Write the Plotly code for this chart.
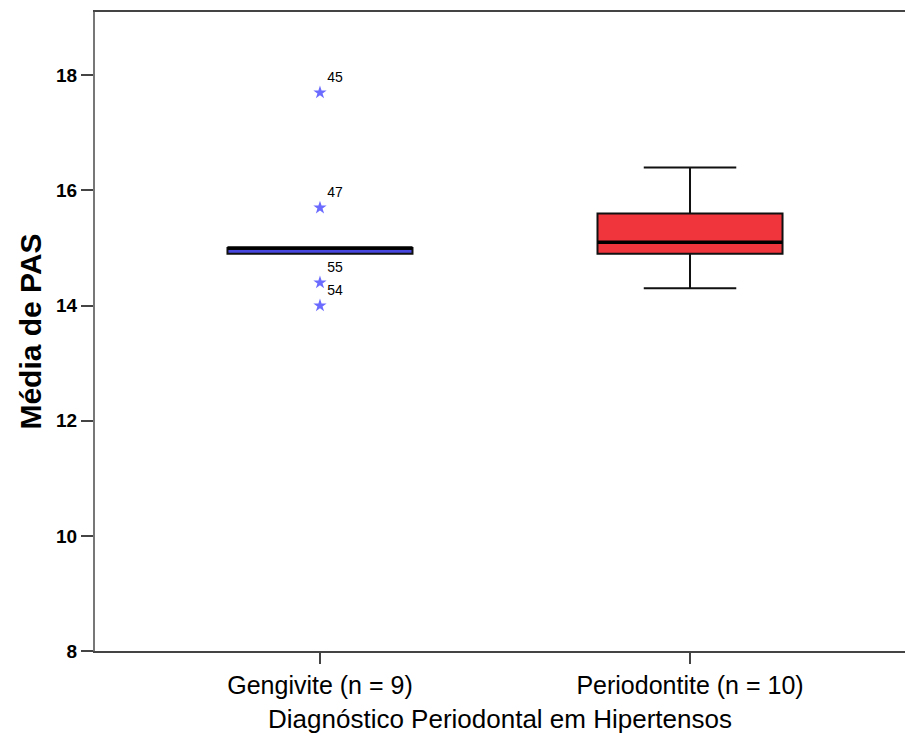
import plotly.graph_objects as go

categories = ["Gengivite (n = 9)", "Periodontite (n = 10)"]
q1 = [14.9, 14.9]
median = [15.0, 15.1]
q3 = [15.0, 15.6]
lower_whisker = [14.9, 14.3]
upper_whisker = [15.0, 16.4]
box_colors = ["#4747e0", "#f0353c"]

outlier_values = [17.7, 15.7, 14.4, 14.0]
outlier_labels = ["45", "47", "55", "54"]
outlier_group = [0, 0, 0, 0]

tick_vals = [8, 10, 12, 14, 16, 18]
tick_text = ["8", "10", "12", "14", "16", "18"]

box_width = 0.5
positions = list(range(len(categories)))

FONT = "Liberation Sans, Arial, sans-serif"

fig = go.Figure()
for i, cat in enumerate(categories):
    fig.add_trace(go.Box(
        x=[positions[i]],
        q1=[q1[i]], median=[median[i]], q3=[q3[i]],
        lowerfence=[lower_whisker[i]], upperfence=[upper_whisker[i]],
        width=box_width, whiskerwidth=0.5,
        fillcolor=box_colors[i],
        line=dict(color="#111111", width=2),
        boxpoints=False, showlegend=False, hoverinfo="skip",
    ))
    # thicker median line
    fig.add_trace(go.Scatter(
        x=[positions[i] - box_width / 2, positions[i] + box_width / 2],
        y=[median[i], median[i]],
        mode="lines", line=dict(color="black", width=3.5),
        showlegend=False, hoverinfo="skip",
    ))

fig.add_trace(go.Scatter(
    x=[positions[g] for g in outlier_group],
    y=outlier_values,
    mode="markers+text",
    marker=dict(symbol="star", size=10, color="#6b6bff"),
    text=outlier_labels,
    textposition="top right",
    textfont=dict(family=FONT, size=14, color="black"),
    showlegend=False, hoverinfo="skip",
))

fig.update_layout(
    width=905, height=736,
    margin=dict(l=95, r=0, t=12, b=85, autoexpand=False),
    plot_bgcolor="white", paper_bgcolor="white",
    font=dict(family=FONT, color="black"),
)
fig.update_xaxes(
    range=[-0.608, 1.581],
    tickmode="array", tickvals=positions, ticktext=categories,
    tickfont=dict(size=25, color="black"),
    ticks="outside", ticklen=11, tickcolor="#444444", tickwidth=1.5,
    showline=True, linecolor="#444444", linewidth=1.5, mirror=True,
    showgrid=False, zeroline=False, automargin=False,
    title=dict(text="Diagnóstico Periodontal em Hipertensos", font=dict(size=26, color="black"), standoff=12),
)
fig.update_yaxes(
    range=[8, 19.1],
    tickmode="array", tickvals=tick_vals, ticktext=["<b>%s</b>" % t for t in tick_text],
    tickfont=dict(size=19, color="black"),
    ticks="outside", ticklen=12, tickcolor="#444444", tickwidth=1.5,
    showline=True, linecolor="#777777", linewidth=2,
    showgrid=False, zeroline=False, automargin=False,
    title=dict(text="<b>Média de PAS</b>", font=dict(size=30, color="black"), standoff=6),
)

fig.write_html(
    "out.html",
    config={"displayModeBar": False},
    post_script="document.body.style.margin='0';document.body.style.overflow='hidden';",
)
